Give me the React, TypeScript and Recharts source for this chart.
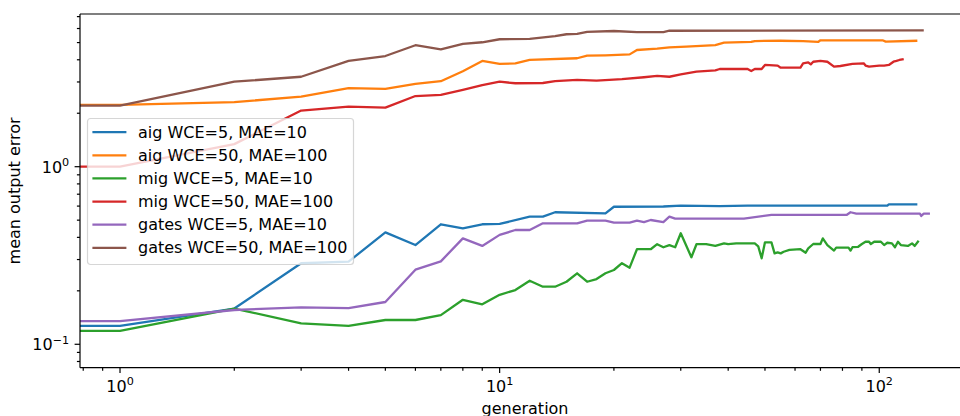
import React from 'react';
import { LineChart, Line, XAxis, YAxis, Legend, ReferenceLine } from 'recharts';

type Pt = [number, number];

// [generation, mean output error]
const aigWce5: Pt[] = [
  [0, 0.127], [1, 0.127], [2, 0.159], [3, 0.286], [4, 0.292], [5, 0.427], [6, 0.362], [7, 0.474], [8, 0.45],
  [9, 0.474], [10, 0.476], [12, 0.523], [13, 0.523], [14, 0.554], [19, 0.546], [20, 0.595], [27, 0.597],
  [30, 0.603], [38, 0.6], [45, 0.603], [105, 0.603], [106, 0.614], [126, 0.614],
];
const aigWce50: Pt[] = [
  [0, 2.23], [1, 2.23], [2, 2.31], [3, 2.48], [4, 2.77], [5, 2.74], [6, 2.93], [7, 3.03], [8, 3.45], [9, 3.94],
  [10, 3.79], [11, 3.82], [12, 4.0], [16, 4.08], [17, 4.22], [19, 4.24], [22, 4.29], [23, 4.54], [26, 4.62],
  [28, 4.7], [31, 4.74], [37, 4.84], [39, 4.99], [46, 5.04], [47, 5.1], [55, 5.12], [63, 5.09], [69, 5.04],
  [70, 5.15], [102, 5.15], [104, 5.06], [126, 5.12],
];
const migWce5: Pt[] = [
  [0, 0.119], [1, 0.119], [2, 0.159], [3, 0.131], [4, 0.127], [5, 0.137], [6, 0.137], [7, 0.146], [8, 0.178],
  [9, 0.168], [10, 0.19], [11, 0.202], [12, 0.228], [13, 0.211], [14, 0.211], [15, 0.225], [16, 0.251],
  [17, 0.225], [18, 0.233], [19, 0.251], [20, 0.262], [21, 0.286], [22, 0.27], [23, 0.343], [25, 0.343],
  [26, 0.366], [27, 0.352], [28, 0.362], [29, 0.352], [30, 0.422], [32, 0.309], [33, 0.366], [35, 0.366],
  [37, 0.358], [39, 0.37], [40, 0.366], [42, 0.37], [47, 0.37], [48, 0.356], [49, 0.305], [50, 0.375],
  [52, 0.375], [53, 0.325], [54, 0.329], [55, 0.325], [56, 0.332], [58, 0.34], [62, 0.343], [64, 0.328],
  [65, 0.347], [67, 0.367], [70, 0.367], [71, 0.395], [73, 0.362], [76, 0.337], [77, 0.35], [83, 0.35],
  [84, 0.337], [85, 0.352], [88, 0.354], [90, 0.367], [92, 0.378], [94, 0.378], [95, 0.367], [97, 0.378],
  [101, 0.378], [103, 0.362], [105, 0.373], [108, 0.37], [110, 0.352], [112, 0.378], [114, 0.362],
  [119, 0.358], [122, 0.37], [124, 0.358], [127, 0.383],
];
const migWce50: Pt[] = [
  [0, 1.0], [1, 1.0], [2, 1.34], [3, 2.07], [4, 2.18], [5, 2.15], [6, 2.5], [7, 2.54], [8, 2.71], [9, 2.88],
  [10, 3.01], [11, 2.95], [13, 2.96], [14, 3.03], [16, 3.08], [18, 3.05], [21, 3.11], [24, 3.19], [26, 3.25],
  [28, 3.21], [30, 3.31], [33, 3.43], [37, 3.49], [38, 3.55], [45, 3.55], [46, 3.46], [47, 3.55], [49, 3.55],
  [50, 3.74], [54, 3.71], [55, 3.61], [62, 3.61], [63, 3.82], [65, 3.87], [66, 3.77], [67, 3.9], [70, 3.94],
  [73, 3.9], [76, 3.66], [79, 3.69], [85, 3.79], [91, 3.82], [92, 3.71], [94, 3.66], [100, 3.71], [103, 3.71],
  [106, 3.74], [109, 3.9], [111, 3.94], [113, 3.99], [116, 4.04],
];
const gatesWce5: Pt[] = [
  [0, 0.135], [1, 0.135], [2, 0.156], [3, 0.1615], [4, 0.16], [5, 0.173], [6, 0.263], [7, 0.293], [8, 0.395],
  [9, 0.358], [10, 0.413], [11, 0.44], [12, 0.44], [13, 0.48], [16, 0.48], [17, 0.497], [19, 0.497],
  [20, 0.484], [22, 0.484], [23, 0.497], [24, 0.488], [25, 0.501], [27, 0.488], [28, 0.523], [29, 0.51],
  [44, 0.51], [52, 0.535], [82, 0.535], [84, 0.554], [87, 0.544], [128, 0.544], [129, 0.528], [131, 0.544],
  [136, 0.544],
];
const gatesWce50: Pt[] = [
  [0, 2.21], [1, 2.21], [2, 3.01], [3, 3.21], [4, 3.94], [5, 4.2], [6, 4.83], [7, 4.58], [8, 4.91], [9, 5.02],
  [10, 5.22], [12, 5.24], [14, 5.44], [15, 5.57], [16, 5.59], [17, 5.75], [20, 5.81], [23, 5.73], [27, 5.73],
  [28, 5.83], [131, 5.86],
];

const seriesNames = [
  'aig WCE=5, MAE=10',
  'aig WCE=50, MAE=100',
  'mig WCE=5, MAE=10',
  'mig WCE=50, MAE=100',
  'gates WCE=5, MAE=10',
  'gates WCE=50, MAE=100',
];
const seriesColors = ['#1f77b4', '#ff7f0e', '#2ca02c', '#d62728', '#9467bd', '#8c564b'];
const seriesData = [aigWce5, aigWce50, migWce5, migWce50, gatesWce5, gatesWce50];

const xTicks = [0.8, 0.9, 1, 2, 3, 4, 5, 6, 7, 8, 9, 10, 20, 30, 40, 50, 60, 70, 80, 90, 100];
const yTicks = [0.08, 0.09, 0.1, 0.2, 0.3, 0.4, 0.5, 0.6, 0.7, 0.8, 0.9, 1, 2, 3, 4, 5, 6, 7];
const xDomain: [number, number] = [0.7845, 173.4];
const yDomain: [number, number] = [0.07381, 7.242];
const xLabel = 'generation';
const yLabel = 'mean output error';

// generation 0 cannot sit on a log axis; like the reference it is pushed far left and clipped
const GEN0_AT = 0.01;

const FONT = '"DejaVu Sans", sans-serif';
const FS = 16;
const MAJOR_LEN = 5.4;
const MINOR_LEN = 3.1;
const TICK_W = 1.2;

const toRows = (arr: Pt[]) => arr.map(([g, v]) => ({ gen: g === 0 ? GEN0_AT : g, v }));

const isMajor = (v: number) => {
  const l = Math.log10(v);
  return Math.abs(l - Math.round(l)) < 1e-9;
};
const expText = (v: number) => {
  const e = Math.round(Math.log10(v));
  return e < 0 ? '\u2212' + Math.abs(e) : String(e);
};

const XTick = (props: any) => {
  const { x, y, payload } = props;
  const v = payload.value;
  const major = isMajor(v);
  return (
    <g>
      <line x1={x} y1={y} x2={x} y2={y + (major ? MAJOR_LEN : MINOR_LEN)} stroke="#000" strokeWidth={TICK_W} />
      {major && (
        <text x={x} y={y + 24} textAnchor="middle" fontFamily={FONT} fontSize={FS} fill="#000">
          10<tspan dy={-6.5} fontSize={FS * 0.7}>{expText(v)}</tspan>
        </text>
      )}
    </g>
  );
};

const YTick = (props: any) => {
  const { x, y, payload } = props;
  const v = payload.value;
  const major = isMajor(v);
  return (
    <g>
      <line x1={x} y1={y} x2={x - (major ? MAJOR_LEN : MINOR_LEN)} y2={y} stroke="#000" strokeWidth={TICK_W} />
      {major && (
        <text x={x - 10.8} y={y + 6} textAnchor="end" fontFamily={FONT} fontSize={FS} fill="#000">
          10<tspan dy={-6.5} fontSize={FS * 0.7}>{expText(v)}</tspan>
        </text>
      )}
    </g>
  );
};

const XLabel = (props: any) => {
  const vb = props.viewBox || {};
  return (
    <text x={vb.x + vb.width / 2} y={vb.y + 46.3} textAnchor="middle" fontFamily={FONT} fontSize={FS} fill="#000">
      {xLabel}
    </text>
  );
};

const YLabel = (props: any) => {
  const vb = props.viewBox || {};
  const cx = vb.x + 20.5;
  const cy = vb.y + vb.height / 2;
  return (
    <text
      x={cx}
      y={cy}
      transform={`rotate(-90, ${cx}, ${cy})`}
      textAnchor="middle"
      fontFamily={FONT}
      fontSize={FS}
      fill="#000"
    >
      {yLabel}
    </text>
  );
};

const LegendBox = (props: any) => {
  const payload = [...(props.payload || [])].sort(
    (a: any, b: any) => seriesNames.indexOf(a.value) - seriesNames.indexOf(b.value)
  );
  return (
    <svg width={268} height={148} style={{ display: 'block', overflow: 'visible' }}>
      <rect
        x={0.5}
        y={0.5}
        width={266}
        height={146}
        rx={3}
        fill="#ffffff"
        fillOpacity={0.8}
        stroke="#cccccc"
        strokeOpacity={0.8}
        strokeWidth={1.2}
      />
      {payload.map((p: any, i: number) => {
        const cy = 14.2 + i * 23.12;
        return (
          <g key={p.value}>
            <line x1={5.4} x2={39.4} y1={cy} y2={cy} stroke={p.color} strokeWidth={2.3} />
            <text x={51} y={cy + 5.6} fontFamily={FONT} fontSize={FS} fill="#000">
              {p.value}
            </text>
          </g>
        );
      })}
    </svg>
  );
};

export default function App() {
  return (
    <div
      style={{
        position: 'absolute',
        left: 0,
        top: 0,
        width: 960,
        height: 416,
        overflow: 'hidden',
        background: '#fff',
      }}
    >
      <LineChart
        width={1000}
        height={416}
        margin={{ top: 14, right: 30, bottom: 0, left: 0 }}
        style={{ fontFamily: FONT }}
      >
        <XAxis
          dataKey="gen"
          type="number"
          scale="log"
          domain={xDomain}
          allowDataOverflow
          ticks={xTicks}
          interval={0}
          tick={<XTick />}
          tickLine={false}
          tickSize={0}
          tickMargin={0}
          height={48.3}
          axisLine={{ stroke: '#000', strokeWidth: 1.2 }}
          label={<XLabel />}
        />
        <YAxis
          type="number"
          scale="log"
          domain={yDomain}
          allowDataOverflow
          ticks={yTicks}
          interval={0}
          tick={<YTick />}
          tickLine={false}
          tickSize={0}
          tickMargin={0}
          width={80}
          axisLine={{ stroke: '#000', strokeWidth: 1.2 }}
          label={<YLabel />}
        />
        {/* top and right spines of the frame */}
        <ReferenceLine y={yDomain[1]} stroke="#000" strokeWidth={1.2} ifOverflow="visible" />
        <ReferenceLine x={xDomain[1]} stroke="#000" strokeWidth={1.2} ifOverflow="visible" />
        {seriesData.map((arr, i) => (
          <Line
            key={seriesNames[i]}
            data={toRows(arr)}
            dataKey="v"
            name={seriesNames[i]}
            type="linear"
            stroke={seriesColors[i]}
            strokeWidth={2.3}
            strokeLinejoin="round"
            dot={false}
            activeDot={false}
            isAnimationActive={false}
          />
        ))}
        <Legend
          layout="horizontal"
          verticalAlign="middle"
          align="center"
          wrapperStyle={{ left: 87.3, top: 117.5, width: 268, height: 148 }}
          content={<LegendBox />}
        />
      </LineChart>
    </div>
  );
}
